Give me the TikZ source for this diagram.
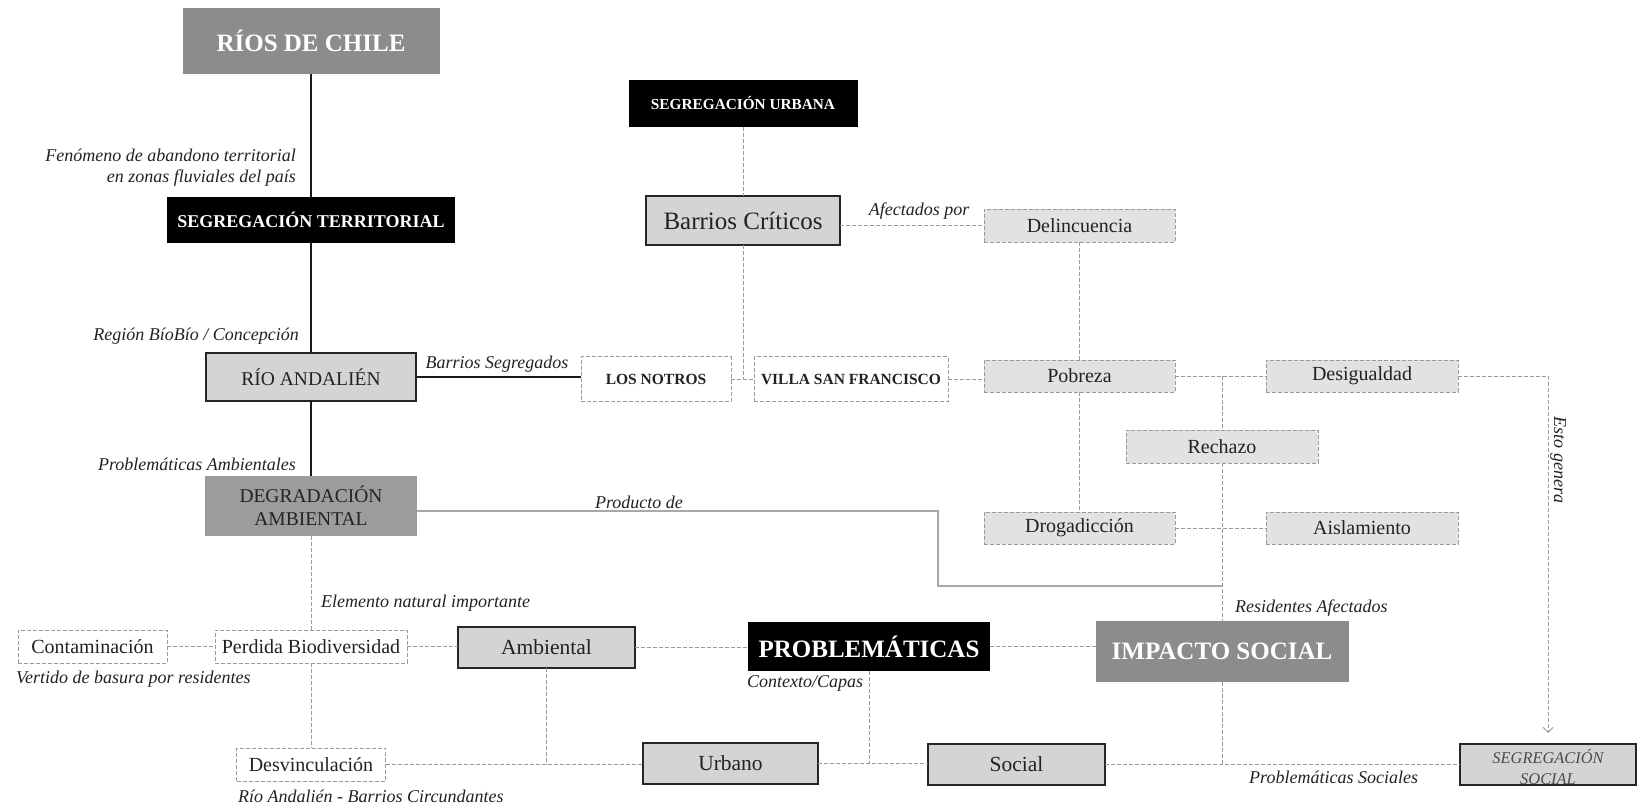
\documentclass[tikz,border=0pt]{standalone}
\usepackage{fontspec}
\setmainfont{Liberation Serif}
\usetikzlibrary{arrows.meta,calc}
\definecolor{gmid}{HTML}{8C8C8C}
\definecolor{gdeg}{HTML}{9C9C9C}
\definecolor{glight}{HTML}{D4D4D4}
\definecolor{gpale}{HTML}{E2E2E2}
\definecolor{gline}{HTML}{A8A8A8}
\definecolor{gdash}{HTML}{9A9A9A}
\definecolor{txt}{HTML}{222222}
\tikzset{
 base/.style={inner sep=0pt, outer sep=0pt, align=center, text=txt},
 bigbox/.style={base, fill=gmid, text=white, font=\fontsize{25}{30}\selectfont\bfseries},
 blackbox/.style={base, fill=black, text=white},
 solidbox/.style={base, fill=glight, draw=black!85, line width=1.8pt, font=\fontsize{21.5}{26}\selectfont},
 dashbox/.style={base, draw=gdash, line width=0.9pt, dash pattern=on 4pt off 2pt, font=\fontsize{20}{24}\selectfont},
 fillbox/.style={dashbox, fill=gpale},
 lab/.style={inner sep=0pt, text=txt, font=\fontsize{18}{21}\selectfont\itshape},
 strong/.style={line width=2pt, black!90},
 dline/.style={gdash, line width=0.9pt, dash pattern=on 4pt off 2pt},
}
\begin{document}
\begin{tikzpicture}[x=1pt,y=-1pt]
\useasboundingbox (0,0) rectangle (1641,809);
% left column
\node[bigbox, minimum width=257pt, minimum height=66pt] (rios) at (311,41) {RÍOS DE CHILE};
\node[lab, anchor=east, align=right] (fen) at (296,168) {Fenómeno de abandono territorial\\en zonas fluviales del país};
\node[blackbox, font=\fontsize{18}{22}\selectfont\bfseries, minimum width=288pt, minimum height=46pt] (segter) at (311,220) {SEGREGACIÓN TERRITORIAL};
\node[lab, anchor=east] (region) at (299,336) {Región BíoBío / Concepción};
\node[solidbox, font=\fontsize{19.5}{24}\selectfont, minimum width=210pt, minimum height=48pt] (rioand) at (311,377) {RÍO ANDALIÉN};
\node[lab, anchor=east] (probamb) at (296,464) {Problemáticas Ambientales};
\node[base, fill=gdeg, font=\fontsize{19.5}{23}\selectfont, minimum width=212pt, minimum height=60pt] (degr) at (311,506) {DEGRADACIÓN\\AMBIENTAL};
\node[lab] (barseg) at (497,364) {Barrios Segregados};
\node[dashbox, font=\fontsize{15.5}{19}\selectfont\bfseries, minimum width=150pt, minimum height=45pt] (notros) at (656,379) {LOS NOTROS};
\node[dashbox, font=\fontsize{15.5}{19}\selectfont\bfseries, minimum width=194pt, minimum height=45pt] (villa) at (851,379) {VILLA SAN FRANCISCO};
% urban segregation
\node[blackbox, font=\fontsize{15.3}{19}\selectfont\bfseries, minimum width=229pt, minimum height=47pt] (segurb) at (743,103.5) {SEGREGACIÓN URBANA};
\node[solidbox, font=\fontsize{25}{29}\selectfont, minimum width=194pt, minimum height=49pt] (barrios) at (743,220.5) {Barrios Críticos};
\node[lab] (afect) at (919,211) {Afectados por};
\node[fillbox, minimum width=191pt, minimum height=33pt] (delin) at (1079.5,225.5) {Delincuencia};
\node[fillbox, minimum width=191pt, minimum height=32pt] (pobreza) at (1079.5,376) {Pobreza};
\node[fillbox, minimum width=192pt, minimum height=32pt] (desig) at (1362,376) {Desigualdad};
\node[fillbox, minimum width=192pt, minimum height=33pt] (rechazo) at (1222,446.5) {Rechazo};
\node[fillbox, minimum width=191pt, minimum height=32pt] (droga) at (1079.5,528) {Drogadicción};
\node[fillbox, minimum width=192pt, minimum height=32pt] (aisla) at (1362,528) {Aislamiento};
\node[lab] (prod) at (639,502) {Producto de};
\node[lab, rotate=-90] (esto) at (1558,460) {Esto genera};
% lower part
\node[lab, anchor=west] (elem) at (321,603) {Elemento natural importante};
\node[dashbox, minimum width=149pt, minimum height=33pt] (contam) at (92.5,646.5) {Contaminación};
\node[dashbox, minimum width=192pt, minimum height=33pt] (perdida) at (311,646.5) {Perdida Biodiversidad};
\node[lab, anchor=west] (vert) at (16,679) {Vertido de basura por residentes};
\node[solidbox, minimum width=177pt, minimum height=41pt] (amb) at (546.5,647.5) {Ambiental};
\node[blackbox, font=\fontsize{25}{30}\selectfont\bfseries, minimum width=242pt, minimum height=49pt] (probl) at (869,646.5) {PROBLEMÁTICAS};
\node[bigbox, minimum width=253pt, minimum height=61pt] (impacto) at (1222,651.5) {IMPACTO SOCIAL};
\node[lab, anchor=west] (resid) at (1235,608) {Residentes Afectados};
\node[lab, anchor=west] (ctx) at (747,683) {Contexto/Capas};
\node[dashbox, minimum width=149pt, minimum height=33pt] (desv) at (311,764.5) {Desvinculación};
\node[lab, anchor=west] (rab) at (238,796) {Río Andalién - Barrios Circundantes};
\node[solidbox, minimum width=175pt, minimum height=41pt] (urb) at (730.5,763.5) {Urbano};
\node[solidbox, minimum width=177pt, minimum height=41pt] (soc) at (1016.5,764.5) {Social};
\node[solidbox, minimum width=176pt, minimum height=41pt] (segsoc) at (1548,764.5) {};
\node[inner sep=0pt, align=center, text=black!70, font=\fontsize{16.4}{21}\selectfont\itshape] (segsoctxt) at (1548,767) {SEGREGACIÓN\\SOCIAL};
\node[lab, anchor=west] (psoc) at (1249,777) {Problemáticas Sociales};
% connectors
\draw[strong] (rios) -- (segter);
\draw[strong] (segter) -- (rioand);
\draw[strong] (rioand) -- (degr);
\draw[strong] (rioand.east) -- (rioand.east -| notros.west);
\draw[dline] (notros.east) -- (villa.west);
\draw[dline] (segurb) -- (barrios);
\draw[dline] (barrios.south) -- (barrios.south |- notros.east);
\draw[dline] (delin.west -| barrios.east) -- (delin.west);
\draw[dline] (delin) -- (pobreza);
\draw[dline] (villa.east) -- (villa.east -| pobreza.west);
\draw[dline] (pobreza) -- (desig);
\draw[dline] (pobreza.east -| rechazo.north) -- (rechazo.north);
\draw[dline] (rechazo) -- (impacto);
\draw[dline] (droga) -- (aisla);
\draw[dline] (pobreza) -- (droga);
\coordinate (pb) at (938,586);
\draw[gline, line width=1.2pt] ([yshift=-5pt]degr.east) -| (pb) -- (pb -| impacto.north);
\draw[dline, -{Straight Barb[length=5pt,width=10pt,line width=0.9pt]}] (desig.east) -| ([yshift=11pt]segsoc.north);
\draw[dline] (degr) -- (perdida);
\draw[dline] (perdida) -- (desv);
\draw[dline] (contam) -- (perdida);
\draw[dline] (perdida.east) -- (perdida.east -| amb.west);
\draw[dline] (amb.east) -- (amb.east -| probl.west);
\draw[dline] (probl.east) -- (probl.east -| impacto.west);
\draw[dline] (desv.east) -- (desv.east -| urb.west);
\draw[dline] (amb.south) -- (amb.south |- desv.east);
\draw[dline] (urb.east) -- (urb.east -| soc.west);
\draw[dline] (probl.south) -- (probl.south |- urb.east);
\draw[dline] (soc.east) -- (soc.east -| segsoc.west);
\draw[dline] (impacto.south) -- (impacto.south |- soc.east);
\end{tikzpicture}
\end{document}
